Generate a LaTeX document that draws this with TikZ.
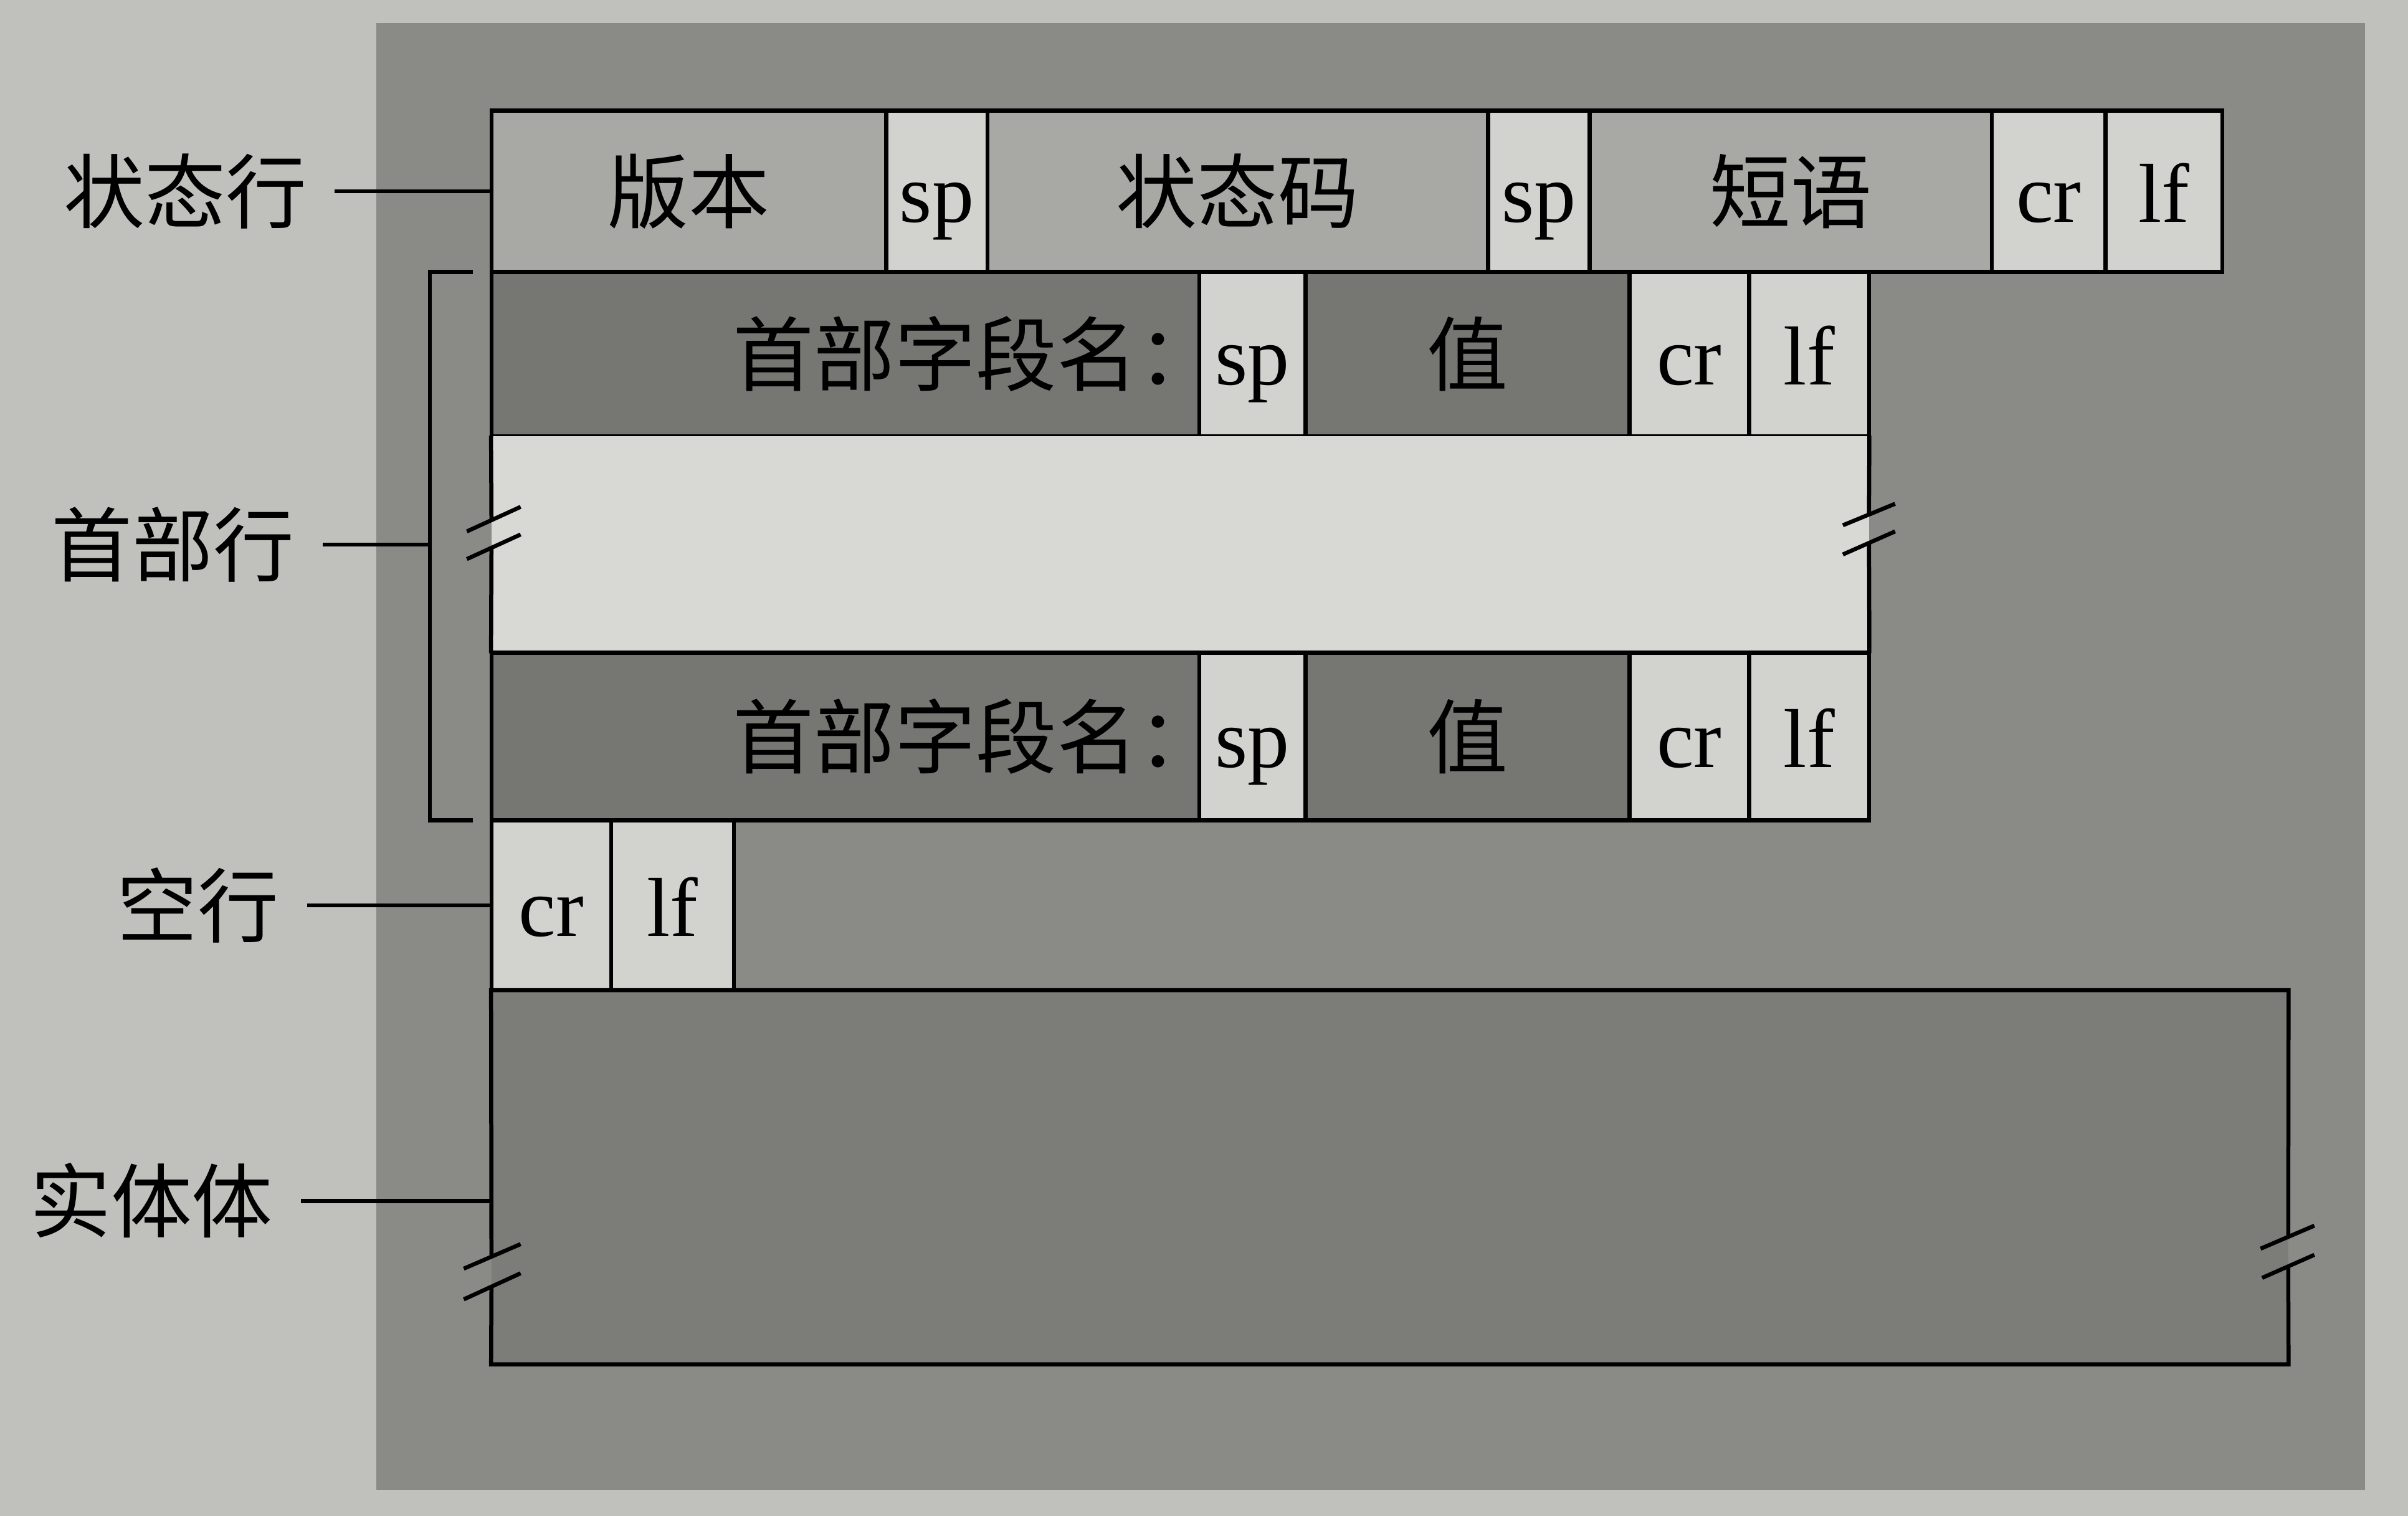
\documentclass[tikz,border=0pt]{standalone}
\usepackage{fontspec}
\setmainfont{Liberation Serif}
\newfontfamily\cjk{Noto Sans CJK SC}
\usetikzlibrary{calc}
\definecolor{pagebg}{RGB}{192,192,188}
\definecolor{panel}{RGB}{138,138,135}
\definecolor{cmid}{RGB}{168,168,165}
\definecolor{clight}{RGB}{210,210,207}
\definecolor{cdark}{RGB}{118,118,115}
\definecolor{cblank}{RGB}{216,216,212}
\definecolor{cbody}{RGB}{124,124,121}
\tikzset{
  lw/.style={line width=1.5pt},
  cellbox/.style={draw=black, lw, inner sep=0pt, text height=27pt, text depth=4.2pt},
  lat/.style={cellbox, font=\fontsize{31}{36}\selectfont},
  han/.style={cellbox, font=\cjk\fontsize{30}{36}\selectfont},
  hantxt/.style={font=\cjk\fontsize{30}{36}\selectfont, inner sep=0pt, text height=27pt, text depth=4.2pt},
  lbl/.style={font=\cjk\fontsize{30}{36}\selectfont, inner xsep=0.36cm, inner ysep=0pt, text height=27pt, text depth=4.2pt, anchor=east},
  plain/.style={inner sep=0pt, fill=#1},
}
\begin{document}
\begin{tikzpicture}[x=0.02cm,y=-0.02cm]
\fill[pagebg] (0,0) rectangle (1568,987);
\useasboundingbox (0,0) rectangle (1568,987);
\fill[panel] (245,15) rectangle (1540,970);

% status line
\node[han, fill=cmid, minimum width=5.14cm, minimum height=2.10cm] (ver) at (448.5,124.5) {版本};
\node[lat, fill=clight, minimum width=1.32cm, minimum height=2.10cm] (sp0a) at (610,124.5) {sp};
\node[han, fill=cmid, minimum width=6.52cm, minimum height=2.10cm] (code) at (806,124.5) {状态码};
\node[lat, fill=clight, minimum width=1.32cm, minimum height=2.10cm] (sp0b) at (1002,124.5) {sp};
\node[han, fill=cmid, minimum width=5.24cm, minimum height=2.10cm] (phrase) at (1166,124.5) {短语};
\node[lat, fill=clight, minimum width=1.48cm, minimum height=2.10cm] (cr0) at (1334,124.5) {cr};
\node[lat, fill=clight, minimum width=1.52cm, minimum height=2.10cm] (lf0) at (1409,124.5) {lf};

% header line 1
\node[han, fill=cdark, minimum width=9.22cm, minimum height=2.14cm] (hn1) at (550.5,230.5) {};
\node[hantxt, anchor=east] (hn1t) at (794,230.5) {首部字段名：};
\node[lat, fill=clight, minimum width=1.38cm, minimum height=2.14cm] (hsp1) at (815.5,230.5) {sp};
\node[han, fill=cdark, minimum width=4.22cm, minimum height=2.14cm] (hv1) at (955.5,230.5) {值};
\node[lat, fill=clight, minimum width=1.56cm, minimum height=2.14cm] (hcr1) at (1100,230.5) {cr};
\node[lat, fill=clight, minimum width=1.56cm, minimum height=2.14cm] (hlf1) at (1178,230.5) {lf};

% omitted header lines
\node[plain=cblank, minimum width=17.94cm, minimum height=2.82cm] (mid) at (768.5,354.5) {};

% header line 2
\node[han, fill=cdark, minimum width=9.22cm, minimum height=2.18cm] (hn2) at (550.5,479.5) {};
\node[hantxt, anchor=east] (hn2t) at (794,479.5) {首部字段名：};
\node[lat, fill=clight, minimum width=1.38cm, minimum height=2.18cm] (hsp2) at (815.5,479.5) {sp};
\node[han, fill=cdark, minimum width=4.22cm, minimum height=2.18cm] (hv2) at (955.5,479.5) {值};
\node[lat, fill=clight, minimum width=1.56cm, minimum height=2.18cm] (hcr2) at (1100,479.5) {cr};
\node[lat, fill=clight, minimum width=1.56cm, minimum height=2.18cm] (hlf2) at (1178,479.5) {lf};

% blank line
\node[lat, fill=clight, minimum width=1.56cm, minimum height=2.22cm] (bcr) at (359,589.5) {cr};
\node[lat, fill=clight, minimum width=1.60cm, minimum height=2.22cm] (blf) at (438,589.5) {lf};

% entity body
\node[plain=cbody, minimum width=23.4cm, minimum height=4.86cm] (body) at (905,766.5) {};

% broken edges of the omitted header area
\draw[lw] (mid.north west) -- (320,339);
\draw[lw] (320,357) -- (mid.south west);
\draw[lw] (mid.north east) -- (1217,334);
\draw[lw] (1217,353) -- (mid.south east);
\draw[lw] (304,346) -- (339,330);
\draw[lw] (304,364) -- (339,348);
\draw[lw] (1200,342) -- (1234,328);
\draw[lw] (1200,361) -- (1234,346);

% broken edges of the entity body
\draw[lw] (320,838) -- (body.south west) -- (body.south east) -- (1490,824.5);
\draw[lw] (320,818) -- (body.north west) -- (body.north east) -- (1490,805);
\draw[lw] (302,826) -- (339,810);
\draw[lw] (302,846) -- (339,829);
\draw[lw] (1472,813) -- (1507,798);
\draw[lw] (1473,832) -- (1507,817);

% labels
\node[lbl] (lstatus) at (218,124.5) {状态行};
\node[lbl] (lhead) at (210,354.5) {首部行};
\node[lbl] (lblank) at (200,589.5) {空行};
\node[lbl] (lbody) at (196,782) {实体体};

\coordinate (brk) at (280,354.5);
\draw[lw] (308,177) -- (280,177) -- (280,534) -- (308,534);

\draw[lw] (lstatus.east) -- (ver.west);
\draw[lw] (lhead.east) -- (brk);
\draw[lw] (lblank.east) -- (bcr.west);
\draw[lw] (lbody.east) -- (lbody.east -| body.west);
\end{tikzpicture}
\end{document}
